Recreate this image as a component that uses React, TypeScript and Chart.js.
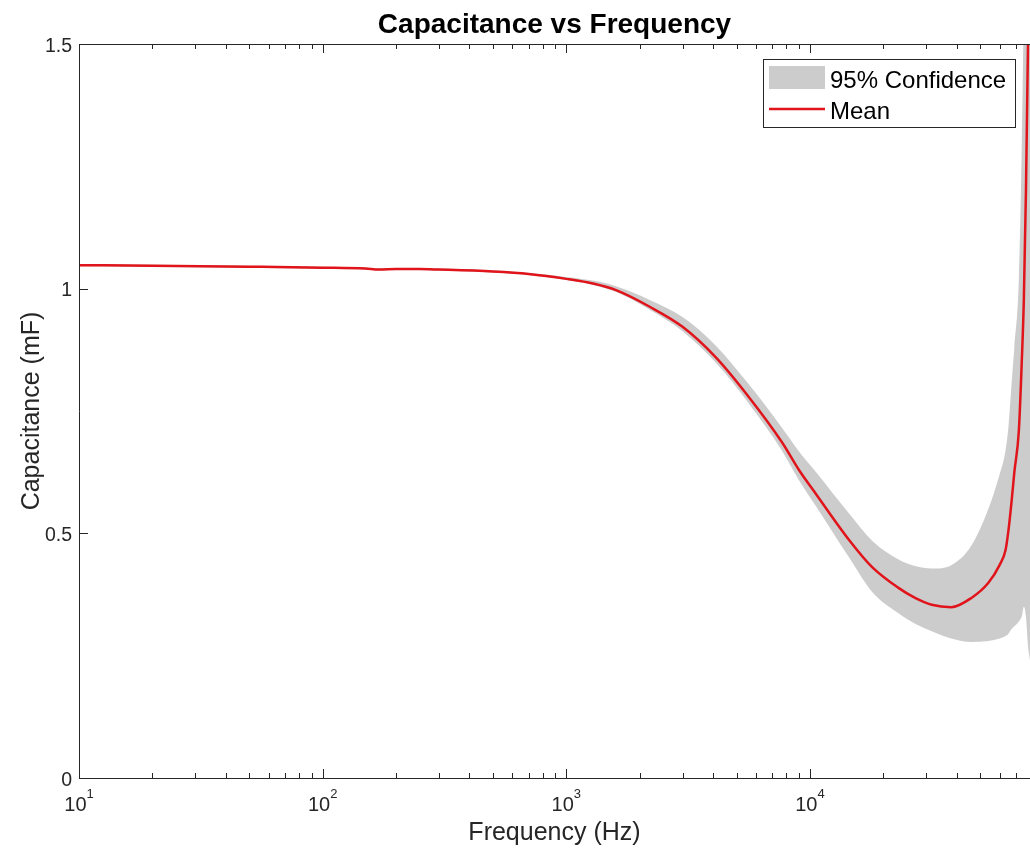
import React, { useEffect, useRef } from 'react';
import { Chart, registerables } from 'chart.js';

Chart.register(...registerables);

// ---- Data ----
const frequencies = [
  10, 20, 50, 100, 150, 170, 200, 250, 300, 500, 700, 1000, 1300, 1600, 2200, 3000,
  4100, 5600, 7700, 9000, 10600, 14500, 18000, 23000, 27000, 31600, 38000, 46000,
  54000, 60000, 63500, 65300, 67300, 69000, 72000, 74000, 75500, 77000, 78500, 80000,
];

const meanCap = [
  1.048, 1.047, 1.045, 1.043, 1.041, 1.039, 1.040, 1.040, 1.039, 1.035, 1.030, 1.020,
  1.010, 0.997, 0.963, 0.922, 0.860, 0.779, 0.685, 0.630, 0.580, 0.486, 0.431, 0.389,
  0.368, 0.354, 0.349, 0.368, 0.399, 0.435, 0.466, 0.507, 0.568, 0.625, 0.710, 0.850,
  0.980, 1.200, 1.500, 1.850,
];

const upperCap = [
  1.050, 1.049, 1.047, 1.045, 1.043, 1.041, 1.042, 1.042, 1.041, 1.037, 1.032, 1.024,
  1.016, 1.005, 0.977, 0.942, 0.884, 0.805, 0.715, 0.668, 0.625, 0.540, 0.485, 0.447,
  0.433, 0.428, 0.435, 0.475, 0.550, 0.620, 0.670, 0.720, 0.810, 0.880, 1.020, 1.290,
  1.600, 2.000, 2.500, 3.000,
];

const lowerCap = [
  1.046, 1.045, 1.043, 1.041, 1.039, 1.037, 1.038, 1.038, 1.037, 1.033, 1.028, 1.018,
  1.007, 0.993, 0.957, 0.913, 0.849, 0.766, 0.668, 0.609, 0.555, 0.450, 0.380, 0.337,
  0.315, 0.300, 0.285, 0.278, 0.280, 0.285, 0.290, 0.295, 0.305, 0.310, 0.320, 0.330,
  0.350, 0.330, 0.270, 0.240,
];

const yTickValues = [0, 0.5, 1, 1.5];
const yTickLabels = ['0', '0.5', '1', '1.5'];
const xDecadeTicks = [10, 100, 1000, 10000];
const xDecadeExponents = ['1', '2', '3', '4'];
const xMinorMantissas = [2, 3, 4, 5, 6, 7, 8, 9];

const X_MIN = 10;
const X_MAX = 80000;
const Y_MIN = 0;
const Y_MAX = 1.5;

const titleText = 'Capacitance vs Frequency';
const xAxisLabel = 'Frequency (Hz)';
const yAxisLabel = 'Capacitance (mF)';
const legendLabels = ['95% Confidence', 'Mean'];

const RED = '#e0141a';
const BAND = '#cccccc';
const AXIS = '#262626';
const FONT = '"Liberation Sans", Arial, sans-serif';

const matlabAxesPlugin = {
  id: 'matlabAxes',
  afterDraw(chart: any) {
    const ctx: CanvasRenderingContext2D = chart.ctx;
    const xs = chart.scales.x;
    const ys = chart.scales.y;
    const a = chart.chartArea;
    ctx.save();

    // box lines (left, top, bottom)
    ctx.strokeStyle = AXIS;
    ctx.lineWidth = 1;
    ctx.beginPath();
    ctx.moveTo(a.left + 0.5, a.top);
    ctx.lineTo(a.left + 0.5, a.bottom + 1);
    ctx.moveTo(a.left, a.top + 0.5);
    ctx.lineTo(a.right, a.top + 0.5);
    ctx.moveTo(a.left, a.bottom + 0.5);
    ctx.lineTo(a.right, a.bottom + 0.5);
    ctx.stroke();

    // x ticks (inward, bottom and top)
    const drawXTick = (v: number, len: number) => {
      const px = Math.round(xs.getPixelForValue(v)) + 0.5;
      if (px > a.right) return;
      ctx.beginPath();
      ctx.moveTo(px, a.bottom);
      ctx.lineTo(px, a.bottom - len);
      ctx.moveTo(px, a.top);
      ctx.lineTo(px, a.top + len);
      ctx.stroke();
    };
    xDecadeTicks.forEach((d) => {
      drawXTick(d, 9);
      xMinorMantissas.forEach((m) => {
        const v = d * m;
        if (v <= X_MAX) drawXTick(v, 5);
      });
    });

    // y ticks (inward, left)
    yTickValues.forEach((v) => {
      const py = Math.round(ys.getPixelForValue(v)) + 0.5;
      ctx.beginPath();
      ctx.moveTo(a.left, py);
      ctx.lineTo(a.left + 9, py);
      ctx.stroke();
    });

    ctx.fillStyle = AXIS;
    // y tick labels
    ctx.font = `19.5px ${FONT}`;
    ctx.textAlign = 'right';
    ctx.textBaseline = 'alphabetic';
    yTickValues.forEach((v, i) => {
      const py = ys.getPixelForValue(v);
      ctx.fillText(yTickLabels[i], a.left - 7, py + 7.5);
    });

    // x tick labels: 10 with superscript exponent
    xDecadeTicks.forEach((d, i) => {
      const px = xs.getPixelForValue(d);
      ctx.font = `20px ${FONT}`;
      const baseW = ctx.measureText('10').width;
      ctx.font = `13px ${FONT}`;
      const expW = ctx.measureText(xDecadeExponents[i]).width;
      const left = px - (baseW + expW) / 2;
      ctx.textAlign = 'left';
      ctx.font = `20px ${FONT}`;
      ctx.fillText('10', left, a.bottom + 33);
      ctx.font = `13px ${FONT}`;
      ctx.fillText(xDecadeExponents[i], left + baseW, a.bottom + 20);
    });

    // axis labels
    ctx.font = `25px ${FONT}`;
    ctx.textAlign = 'center';
    ctx.fillText(xAxisLabel, (a.left + a.right) / 2, 840);
    ctx.save();
    ctx.translate(39, (a.top + a.bottom) / 2);
    ctx.rotate(-Math.PI / 2);
    ctx.fillText(yAxisLabel, 0, 0);
    ctx.restore();

    // title
    ctx.fillStyle = '#000000';
    ctx.font = `bold 28px ${FONT}`;
    ctx.fillText(titleText, (a.left + a.right) / 2, 33);

    // legend
    const lx = 763, ly = 59, lw = 252, lh = 68;
    ctx.fillStyle = '#ffffff';
    ctx.fillRect(lx, ly, lw, lh);
    ctx.strokeStyle = AXIS;
    ctx.lineWidth = 1;
    ctx.strokeRect(lx + 0.5, ly + 0.5, lw, lh);
    ctx.fillStyle = BAND;
    ctx.fillRect(769, 66, 56, 23);
    ctx.strokeStyle = RED;
    ctx.lineWidth = 2.5;
    ctx.beginPath();
    ctx.moveTo(769, 109);
    ctx.lineTo(825, 109);
    ctx.stroke();
    ctx.fillStyle = '#000000';
    ctx.font = `24px ${FONT}`;
    ctx.textAlign = 'left';
    ctx.fillText(legendLabels[0], 830, 88);
    ctx.fillText(legendLabels[1], 830, 119);

    ctx.restore();
  },
};

export default function App() {
  const canvasRef = useRef<HTMLCanvasElement | null>(null);

  useEffect(() => {
    document.body.style.margin = '0';
    const canvas = canvasRef.current;
    if (!canvas) return;
    const toPts = (vals: number[]) => frequencies.map((f, i) => ({ x: f, y: vals[i] }));
    const chart = new Chart(canvas, {
      type: 'line',
      data: {
        datasets: [
          {
            label: legendLabels[1],
            data: toPts(meanCap),
            borderColor: RED,
            borderWidth: 2.5,
            pointRadius: 0,
            fill: false,
            cubicInterpolationMode: 'monotone',
            order: 0,
          },
          {
            label: legendLabels[0],
            data: toPts(upperCap),
            borderColor: 'rgba(0,0,0,0)',
            borderWidth: 0,
            backgroundColor: BAND,
            pointRadius: 0,
            fill: 2,
            cubicInterpolationMode: 'monotone',
            order: 1,
          },
          {
            label: 'lower',
            data: toPts(lowerCap),
            borderColor: 'rgba(0,0,0,0)',
            borderWidth: 0,
            pointRadius: 0,
            fill: false,
            cubicInterpolationMode: 'monotone',
            order: 2,
          },
        ],
      } as any,
      options: {
        animation: false,
        responsive: false,
        devicePixelRatio: 1,
        layout: { padding: { left: 79, top: 44, right: 0, bottom: 73 } },
        scales: {
          x: { type: 'logarithmic', min: X_MIN, max: X_MAX, display: false },
          y: { type: 'linear', min: Y_MIN, max: Y_MAX, display: false },
        },
        plugins: {
          legend: { display: false },
          tooltip: { enabled: false },
          title: { display: false },
        },
      } as any,
      plugins: [matlabAxesPlugin],
    });
    return () => chart.destroy();
  }, []);

  return (
    <div style={{ width: 1030, height: 851, background: '#ffffff' }}>
      <canvas ref={canvasRef} width={1030} height={851} style={{ display: 'block' }} />
    </div>
  );
}
